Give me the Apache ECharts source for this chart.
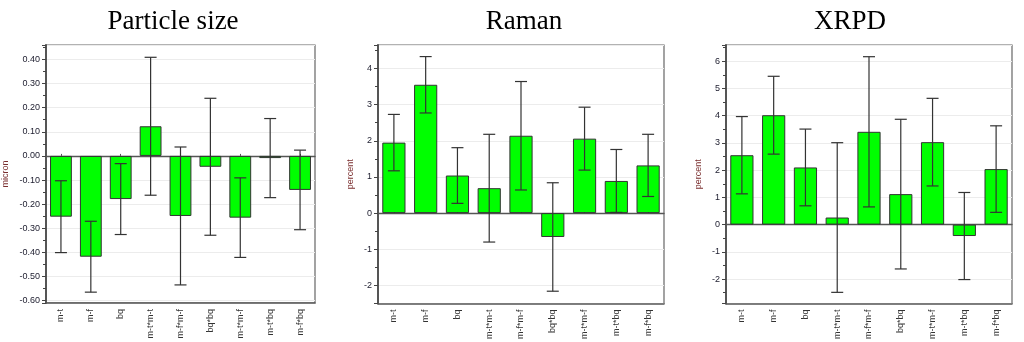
<!DOCTYPE html>
<html>
<head>
<meta charset="utf-8">
<script src="https://cdn.jsdelivr.net/npm/echarts@6/dist/echarts.min.js"></script>
<style>html,body{margin:0;padding:0;background:#fff}#c{width:1024px;height:342px}</style>
</head>
<body>
<div id="c"></div>
<script>
const categories = ['m-t', 'm-f', 'bq', 'm-t*m-t', 'm-f*m-f', 'bq*bq', 'm-t*m-f', 'm-t*bq', 'm-f*bq'];
const titles = ['Particle size', 'Raman', 'XRPD'];
const yNames = ['micron', 'percent', 'percent'];

const particleValues = [-0.252, -0.418, -0.179, 0.123, -0.249, -0.045, -0.256, -0.009, -0.141];
const particleErrors = [0.149, 0.147, 0.147, 0.286, 0.286, 0.284, 0.165, 0.164, 0.165];

const ramanValues = [1.95, 3.55, 1.04, 0.69, 2.14, -0.66, 2.06, 0.89, 1.32];
const ramanErrors = [0.78, 0.78, 0.77, 1.49, 1.50, 1.50, 0.87, 0.87, 0.86];

const xrpdValues = [2.55, 4.02, 2.10, 0.26, 3.41, 1.12, 3.03, -0.42, 2.04];
const xrpdErrors = [1.42, 1.43, 1.41, 2.75, 2.76, 2.75, 1.61, 1.60, 1.59];

const yMin = [-0.61, -2.5, -2.9];
const yMax = [0.46, 4.65, 6.6];
const ySplit = [10, 7, 9];
const yDecimals = [2, 0, 0];

const panels = [
  {values: particleValues, errors: particleErrors},
  {values: ramanValues, errors: ramanErrors},
  {values: xrpdValues, errors: xrpdErrors}
];

const gridPos = [
  {left: 42, top: 45, width: 273, height: 258},
  {left: 378, top: 45, width: 286, height: 259},
  {left: 726, top: 45, width: 286, height: 259}
];
const titleX = [168, 519, 845];
const nameGaps = [36, 23, 23];

const chart = echarts.init(document.getElementById('c'), null, {renderer: 'canvas'});

const option = {
  backgroundColor: '#fff',
  animation: false,
  title: titles.map((t, i) => ({
    text: t, left: titleX[i], top: 3, textAlign: 'center',
    textStyle: {fontFamily: 'Liberation Serif', fontSize: 27, fontWeight: 'normal', color: '#000'}
  })),
  grid: gridPos.map(g => Object.assign({show: true, borderColor: '#666', borderWidth: 1.2, backgroundColor: '#fff'}, g)),
  xAxis: [],
  yAxis: [],
  series: []
};

panels.forEach((p, i) => {
  option.xAxis.push({
    type: 'category', gridIndex: i, data: categories, position: 'bottom',
    axisLine: {onZero: false, lineStyle: {color: '#555', width: 1.5}},
    axisTick: {show: false},
    axisLabel: {rotate: 90, fontSize: 9, color: '#333', fontFamily: 'Liberation Sans', margin: 6, interval: 0}
  });
  option.xAxis.push({
    type: 'category', gridIndex: i, data: categories, position: 'bottom',
    axisLine: {onZero: true, lineStyle: {color: '#555', width: 1.3}},
    axisTick: {show: true, inside: true, length: 2, alignWithLabel: true, lineStyle: {color: '#555'}},
    axisLabel: {show: false}
  });
  option.yAxis.push({
    type: 'value', gridIndex: i, min: yMin[i], max: yMax[i], splitNumber: ySplit[i],
    name: yNames[i], nameLocation: 'middle', nameRotate: 90, nameGap: nameGaps[i],
    nameTextStyle: {fontSize: 9, color: '#7a2e2e', fontFamily: 'Liberation Sans'},
    axisLine: {show: true, lineStyle: {color: '#555', width: 2}},
    axisTick: {show: true, length: 4, lineStyle: {color: '#444'}},
    minorTick: {show: true, splitNumber: 2, length: 3, lineStyle: {color: '#444'}},
    splitLine: {show: true, lineStyle: {color: '#ececec', width: 1}},
    axisLabel: {
      fontSize: 9, color: '#222233', fontFamily: 'Liberation Sans', margin: 6,
      showMinLabel: false, showMaxLabel: false,
      formatter: v => v.toFixed(yDecimals[i])
    }
  });
  option.series.push({
    type: 'bar', xAxisIndex: 2 * i, yAxisIndex: i, data: p.values,
    barCategoryGap: '27%',
    itemStyle: {color: '#00ff00', borderColor: '#333', borderWidth: 1},
    z: 2
  });
  option.series.push({
    type: 'custom', xAxisIndex: 2 * i, yAxisIndex: i,
    data: p.values.map((v, k) => [k, v, p.errors[k]]),
    renderItem: (params, api) => {
      const x = api.value(0), v = api.value(1), e = api.value(2);
      const hi = api.coord([x, v + e]);
      const lo = api.coord([x, v - e]);
      const hw = 6;
      const st = {stroke: '#333', lineWidth: 1.2};
      return {
        type: 'group',
        children: [
          {type: 'line', shape: {x1: hi[0], y1: hi[1], x2: lo[0], y2: lo[1]}, style: st},
          {type: 'line', shape: {x1: hi[0] - hw, y1: hi[1], x2: hi[0] + hw, y2: hi[1]}, style: st},
          {type: 'line', shape: {x1: lo[0] - hw, y1: lo[1], x2: lo[0] + hw, y2: lo[1]}, style: st}
        ]
      };
    },
    z: 5
  });
});

chart.setOption(option);
</script>
</body>
</html>
